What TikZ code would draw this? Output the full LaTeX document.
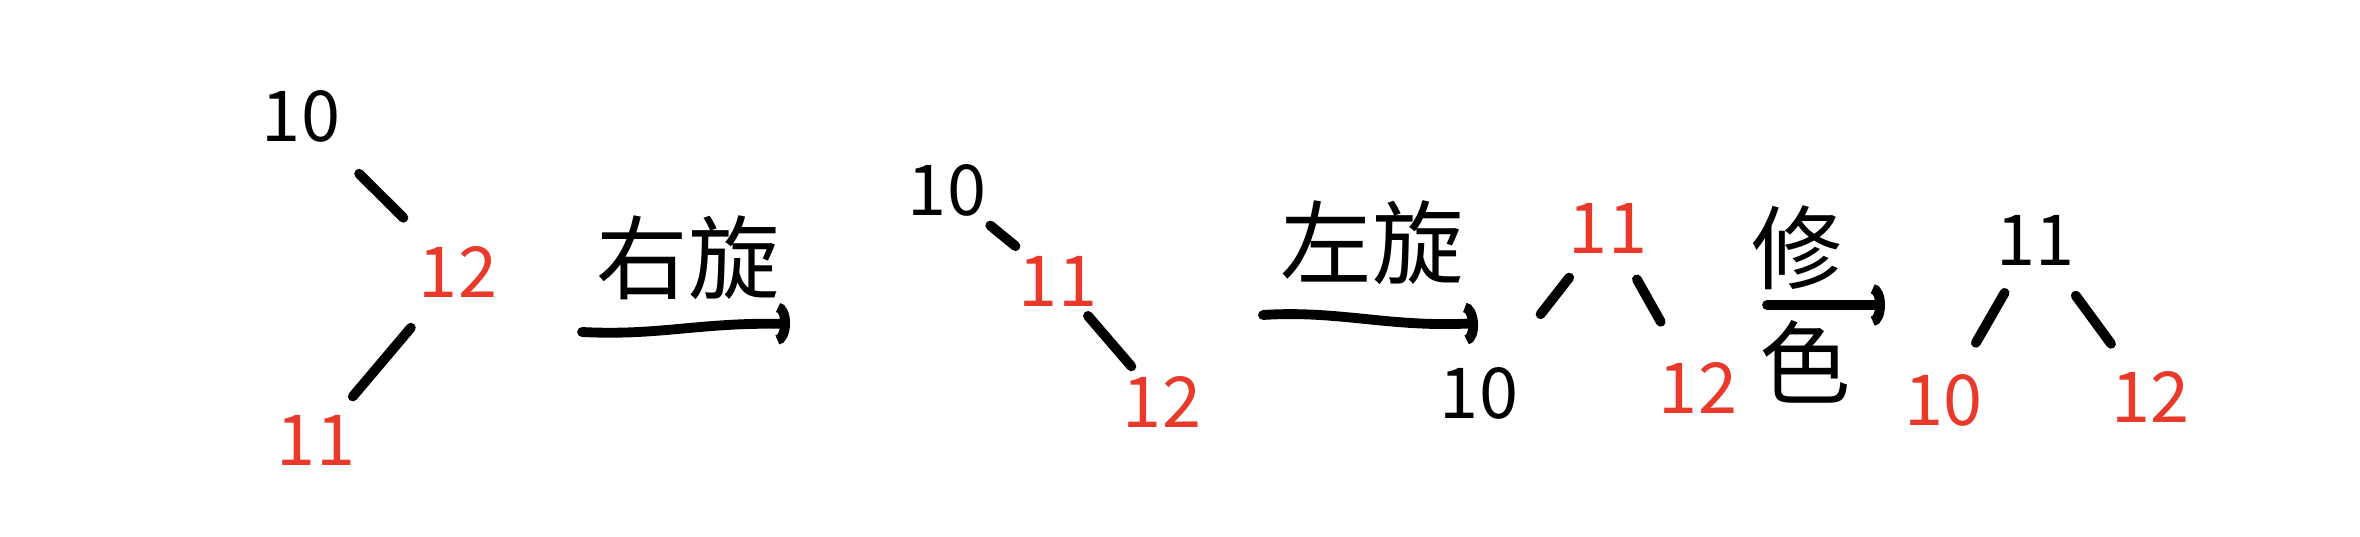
\documentclass[tikz,border=0pt]{standalone}
\usepackage{fontspec}
\setmainfont{Noto Sans CJK SC}
\usetikzlibrary{arrows.meta}
\definecolor{penred}{RGB}{232,57,42}
\definecolor{penblack}{RGB}{0,0,0}
\tikzset{
  num/.style={font=\fontsize{20}{20}\selectfont, inner sep=0pt},
  blacknum/.style={num, text=penblack},
  rednum/.style={num, text=penred},
  cjk/.style={font=\fontsize{26}{26}\selectfont, inner sep=0pt, text=penblack},
  edge/.style={draw=penblack, line width=2.8pt, line cap=round},
  arr/.style={draw=penblack, line width=2.8pt, line cap=round, -{Arc Barb[length=3.5pt,width=12pt]}},
}
\begin{document}
\begin{tikzpicture}[x=1cm,y=1cm]
\useasboundingbox (0,0) rectangle (23.6,-5.37);
% tree 1
\node[blacknum] (t1a) at (3.01,-1.16) {10};
\node[rednum]   (t1b) at (4.58,-2.72) {12};
\node[rednum]   (t1c) at (3.16,-4.40) {11};
\draw[edge, shorten <=0.82cm, shorten >=0.77cm] (t1a.center) -- (t1b.center);
\draw[edge, shorten <=0.73cm, shorten >=0.57cm] (t1b.center) -- (t1c.center);
% arrow 1
\coordinate (a1s) at (5.82,-3.32);
\coordinate (a1e) at (7.90,-3.24);
\draw[arr] (a1s) .. controls (6.6,-3.36) and (7.0,-3.22) .. (a1e);
\node[cjk] (l1) at (6.88,-2.58) {右旋};
% tree 2
\node[blacknum] (t2a) at (9.47,-1.90) {10};
\node[rednum]   (t2b) at (10.58,-2.81) {11};
\node[rednum]   (t2c) at (11.62,-4.02) {12};
\draw[edge, shorten <=0.56cm, shorten >=0.55cm] (t2a.center) -- (t2b.center);
\draw[edge, shorten <=0.46cm, shorten >=0.47cm] (t2b.center) -- (t2c.center);
% arrow 2
\coordinate (a2s) at (12.63,-3.15);
\coordinate (a2e) at (14.78,-3.23);
\draw[arr] (a2s) .. controls (13.4,-3.10) and (13.9,-3.28) .. (a2e);
\node[cjk] (l2) at (13.72,-2.43) {左旋};
% tree 3
\node[rednum]   (t3a) at (16.08,-2.28) {11};
\node[blacknum] (t3b) at (14.79,-3.93) {10};
\node[rednum]   (t3c) at (16.98,-3.88) {12};
\draw[edge, shorten <=0.63cm, shorten >=1.00cm] (t3a.center) -- (t3b.center);
\draw[edge, shorten <=0.59cm, shorten >=0.76cm] (t3a.center) -- (t3c.center);
% arrow 3
\coordinate (a3s) at (17.67,-3.05);
\coordinate (a3e) at (18.85,-3.05);
\draw[arr] (a3s) -- (a3e);
\node[cjk] (l3a) at (17.97,-2.48) {修};
\node[cjk] (l3b) at (18.05,-3.62) {色};
% tree 4
\node[blacknum] (t4a) at (20.35,-2.40) {11};
\node[rednum]   (t4b) at (19.43,-4.00) {10};
\node[rednum]   (t4c) at (21.50,-3.97) {12};
\draw[edge, shorten <=0.61cm, shorten >=0.66cm] (t4a.center) -- (t4b.center);
\draw[edge, shorten <=0.69cm, shorten >=0.66cm] (t4a.center) -- (t4c.center);
\end{tikzpicture}
\end{document}
